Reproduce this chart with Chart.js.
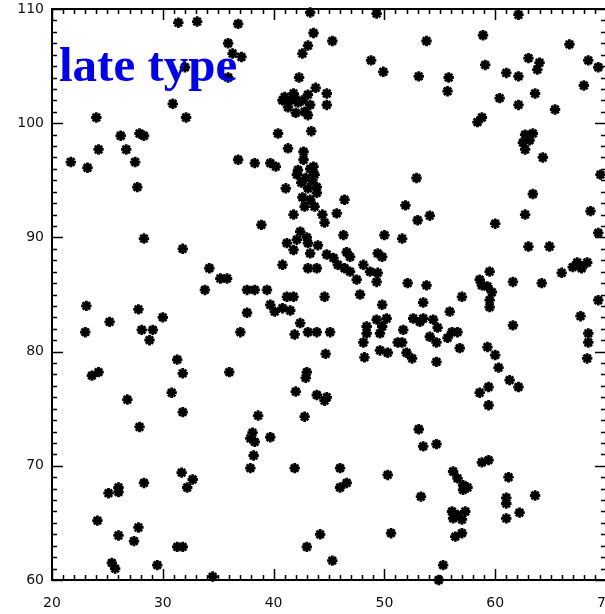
<!DOCTYPE html>
<html>
<head>
<meta charset="utf-8">
<title>late type</title>
<script src="https://cdn.jsdelivr.net/npm/chart.js@4.4.1/dist/chart.umd.min.js"></script>
<style>
  html, body { margin: 0; padding: 0; background: #fff; overflow: hidden; }
  #wrap { position: relative; width: 615px; height: 614px; }
  #title {
    position: absolute; left: 59px; top: 40px;
    font: bold 49px "Liberation Serif", "Times New Roman", serif;
    line-height: 1; color: #0000f0; white-space: nowrap;
  }
</style>
</head>
<body>
<div id="wrap">
  <canvas id="chart" width="615" height="614"></canvas>
  <div id="title">late type</div>
</div>
<script>
// axis ranges and labelled ticks
const xRange = [20, 70];
const yRange = [60, 110];
const xTicks = [20, 30, 40, 50, 60, 70];
const yTicks = [60, 70, 80, 90, 100, 110];

// point positions, one line per region
const lateX = [
  31.4,33.1,32.0,30.9,32.1,24.0,26.2,27.9,28.3,24.2,26.7,21.7,23.2,27.5,27.7,
  36.8,43.3,49.3,43.6,45.3,35.9,43.1,42.6,36.3,37.1,48.8,49.9,35.9,42.3,43.8,44.8,44.8,40.8,41.3,41.8,42.6,43.1,42.8,43.3,41.0,41.9,43.1,43.4,40.4,41.3,42.7,38.3,39.7,40.2,36.8,42.2,43.6,42.1,43.5,43.1,43.9,42.7,42.6,43.3,43.9,42.8,43.7,41.1,46.4,
  41.5,42.2,42.0,42.9,43.3,42.5,43.7,
  41.8,44.4,45.7,44.6,38.9,42.4,43.0,42.1,41.2,41.8,43.1,44.0,46.3,43.3,44.8,45.4,46.6,46.9,45.8,46.4,40.8,43.1,43.9,48.1,48.7,49.4,46.9,47.5,49.4,38.3,39.4,37.6,41.2,41.8,44.6,47.8,39.7,40.1,40.8,41.5,42.4,43.1,43.9,45.1,41.9,48.4,34.2,35.2,35.8,33.8,37.6,37.0,44.7,36.0,43.0,42.9,42.0,43.9,44.8,
  50.0,49.8,49.8,49.3,49.8,50.2,48.4,49.6,48.1,49.6,50.3,48.2,51.2,49.3,52.1,53.8,57.0,53.5,55.9,52.6,53.5,54.4,54.8,54.1,54.7,51.7,51.6,52.0,52.5,53.2,56.1,56.6,55.7,56.8,54.7,59.3,
  51.9,53.0,54.1,51.6,60.0,62.7,68.6,69.3,63.0,64.9,67.4,68.3,67.8,67.0,66.0,61.6,64.2,58.6,59.5,59.3,58.8,59.7,59.5,59.5,69.3,67.7,61.6,68.4,68.4,68.3,60.0,60.3,61.3,62.1,59.4,58.6,
  62.1,53.8,58.9,66.7,53.1,55.8,55.7,59.1,63.0,64.0,63.8,61.0,62.1,68.4,69.3,68.0,63.6,60.4,62.1,65.4,58.4,58.8,62.7,63.4,62.5,62.7,63.1,64.3,52.9,69.5,63.4,
  28.3,31.8,23.1,27.8,30.0,25.2,23.0,28.1,29.1,28.8,31.3,31.8,23.6,24.2,30.8,26.8,
  31.8,27.9,31.7,32.7,32.2,28.3,25.1,26.0,26.0,24.1,27.8,26.0,27.4,31.3,31.8,25.4,25.7,29.5,
  44.6,38.6,42.8,37.9,38.3,38.1,39.7,38.2,37.9,41.9,46.0,46.0,46.6,50.3,44.2,43.0,45.3,50.6,34.5,
  59.4,53.1,53.5,54.7,58.8,59.4,56.2,56.6,57.1,57.5,57.1,61.2,53.3,61.0,61.0,63.6,62.2,61.0,56.1,56.6,57.3,56.2,57.0,56.4,57.0,55.3,54.9
];
const lateY = [
  108.8,108.9,104.9,101.7,100.5,100.5,98.9,99.1,98.9,97.7,97.7,96.6,96.1,96.6,94.4,
  108.7,109.7,109.6,107.9,107.2,107.0,106.8,106.1,106.1,105.8,105.5,104.5,104.0,104.0,103.1,102.6,101.6,102.0,101.4,102.6,102.0,102.5,101.0,101.6,102.3,102.3,100.7,99.3,99.1,97.8,97.5,96.5,96.5,96.2,96.8,95.9,96.2,95.5,95.0,94.3,94.4,96.8,93.5,93.3,93.9,92.7,92.7,94.3,93.3,
  102.0,101.8,100.9,95.2,96.0,94.8,95.5,
  92.0,92.0,92.1,91.3,91.1,90.5,90.0,89.8,89.5,88.9,89.5,89.3,90.2,88.6,88.5,88.2,88.7,88.3,87.6,87.3,87.6,87.3,87.3,87.6,87.0,86.9,87.0,86.3,88.6,85.4,85.4,85.4,84.8,84.8,84.8,85.0,84.1,83.5,83.8,83.6,82.5,81.7,81.7,81.7,81.5,82.2,87.3,86.4,86.4,85.4,83.4,81.7,79.8,78.2,78.2,77.7,76.5,76.2,76.0,
  90.2,88.3,84.1,82.8,82.2,82.9,81.6,81.6,80.8,80.1,79.9,79.5,80.8,86.1,86.0,85.8,84.8,84.3,83.5,82.9,82.9,82.8,82.1,81.3,80.8,81.9,80.8,79.9,79.4,82.6,81.7,81.7,81.2,80.3,79.1,80.4,
  92.8,91.5,91.9,89.9,91.2,92.0,92.3,90.4,89.2,89.2,87.8,87.8,87.3,87.4,86.9,86.1,86.0,86.3,87.0,85.7,85.8,85.2,84.5,83.9,84.5,83.1,82.3,81.6,80.8,79.4,79.7,78.6,77.5,76.9,76.9,76.4,
  109.5,107.2,107.7,106.9,104.1,104.0,102.8,105.1,105.7,105.3,104.7,104.4,104.1,105.5,104.9,103.3,102.6,102.2,101.6,101.2,100.1,100.5,99.0,99.1,98.3,97.7,98.5,97.0,95.2,95.5,93.8,
  89.9,89.0,84.0,83.7,83.0,82.6,81.7,81.9,81.9,81.0,79.3,78.1,77.9,78.2,76.4,75.8,
  74.7,73.4,69.4,68.8,68.1,68.5,67.6,68.1,67.7,65.2,64.6,63.9,63.4,62.9,62.9,61.5,61.0,61.3,
  75.7,74.4,74.3,72.4,72.1,72.9,72.5,70.9,69.8,69.8,69.8,68.1,68.5,69.2,64.0,62.9,61.7,64.1,60.3,
  75.3,73.2,71.7,71.9,70.3,70.5,69.5,68.9,68.3,68.1,67.9,69.0,67.3,67.2,66.7,67.4,65.9,65.4,66.0,65.7,66.0,65.4,65.3,63.8,64.1,61.3,60.0
];

if (lateX.length !== lateY.length) console.warn('x/y length mismatch', lateX.length, lateY.length);

// IDL-style box with inward ticks on all four sides
const frameTicks = {
  id: 'frameTicks',
  afterDatasetsDraw(chart) {
    const { ctx, chartArea: a, scales: { x, y } } = chart;
    ctx.save();
    ctx.strokeStyle = '#000';
    ctx.lineWidth = 1.5;
    ctx.beginPath();
    for (let v = xRange[0]; v <= xRange[1]; v++) {
      const px = Math.round(x.getPixelForValue(v)) + 0.5;
      const len = xTicks.includes(v) ? 11 : 5;
      ctx.moveTo(px, a.bottom); ctx.lineTo(px, a.bottom - len);
      ctx.moveTo(px, a.top); ctx.lineTo(px, a.top + len);
    }
    for (let v = yRange[0]; v <= yRange[1]; v++) {
      const py = Math.round(y.getPixelForValue(v)) + 0.5;
      const len = yTicks.includes(v) ? 11 : 5;
      ctx.moveTo(a.left, py); ctx.lineTo(a.left + len, py);
      ctx.moveTo(a.right, py); ctx.lineTo(a.right - len, py);
    }
    ctx.stroke();
    ctx.lineWidth = 2;
    ctx.strokeRect(a.left, a.top, a.right - a.left, a.bottom - a.top);
    ctx.restore();
  }
};

const tickFont = { family: '"DejaVu Sans", sans-serif', size: 14 };

new Chart(document.getElementById('chart'), {
  type: 'scatter',
  data: {
    datasets: [{
      label: 'late type',
      data: lateX.map((v, i) => ({ x: v, y: lateY[i] })),
      pointStyle: 'star',
      pointRadius: 5.2,
      pointBorderWidth: 2.8,
      pointBorderColor: '#000',
      pointBackgroundColor: '#000',
      clip: false
    }]
  },
  options: {
    responsive: false,
    animation: false,
    devicePixelRatio: 1,
    layout: { padding: { left: 0, top: 9, right: 9, bottom: 0 } },
    plugins: { legend: { display: false }, tooltip: { enabled: false } },
    scales: {
      x: {
        type: 'linear', min: xRange[0], max: xRange[1],
        grid: { display: false, drawTicks: false },
        border: { display: false },
        ticks: {
          stepSize: 10, padding: 15, color: '#111', font: tickFont,
          maxRotation: 0, autoSkip: false
        },
        afterFit(scale) {
          scale.height = 34;
          scale.paddingLeft = 0;
          scale.paddingRight = 0;
        }
      },
      y: {
        type: 'linear', min: yRange[0], max: yRange[1],
        grid: { display: false, drawTicks: false },
        border: { display: false },
        ticks: { stepSize: 10, padding: 8, color: '#111', font: tickFont },
        afterFit(scale) {
          scale.width = 52;
          scale.paddingTop = 0;
          scale.paddingBottom = 0;
        }
      }
    }
  },
  plugins: [frameTicks]
});
</script>
</body>
</html>
